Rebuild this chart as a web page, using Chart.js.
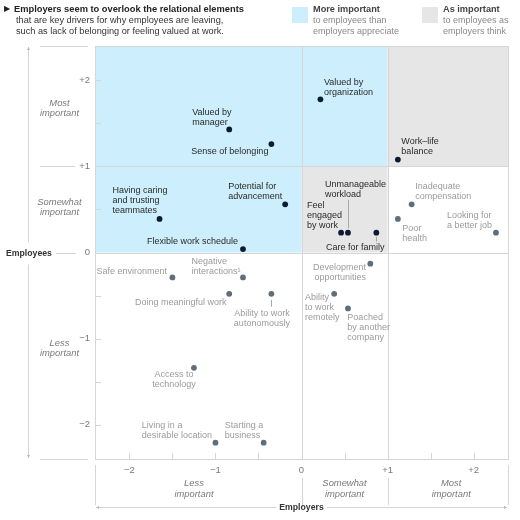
<!DOCTYPE html>
<html>
<head>
<meta charset="utf-8">
<script src="https://cdn.jsdelivr.net/npm/chart.js@4.4.1/dist/chart.umd.min.js"></script>
<style>
  html, body { margin: 0; padding: 0; background: #fff; }
  #wrap { position: relative; width: 520px; height: 520px; }
</style>
</head>
<body>
<div id="wrap"><canvas id="myChart" width="520" height="520"></canvas></div>
<script>
// drivers for leaving: how important to employers (x) vs employees (y)
const drivers = [
  "Valued by\nmanager",
  "Sense of belonging",
  "Potential for\nadvancement",
  "Having caring\nand trusting\nteammates",
  "Flexible work schedule",
  "Valued by\norganization",
  "Work\u2013life\nbalance",
  "Unmanageable\nworkload",
  "Feel\nengaged\nby work",
  "Care for family",
  "Inadequate\ncompensation",
  "Poor\nhealth",
  "Looking for\na better job",
  "Safe environment",
  "Negative\ninteractions\u00b9",
  "Doing meaningful work",
  "Ability to work\nautonomously",
  "Access to\ntechnology",
  "Living in a\ndesirable location",
  "Starting a\nbusiness",
  "Development\nopportunities",
  "Ability\nto work\nremotely",
  "Poached\nby another\ncompany"
];
const employerScore = [-0.84, -0.35, -0.19, -1.65, -0.68, 0.22, 1.12, 0.54, 0.46, 0.87, 1.28, 1.12, 2.26,
  -1.50, -0.68, -0.84, -0.35, -1.25, -1.00, -0.44, 0.80, 0.38, 0.54];
const employeeScore = [1.43, 1.26, 0.56, 0.39, 0.04, 1.78, 1.08, 0.23, 0.23, 0.23, 0.56, 0.39, 0.23,
  -0.29, -0.29, -0.48, -0.48, -1.34, -2.21, -2.21, -0.13, -0.48, -0.65];
// 1 = sits in a shaded zone (dark dot)
const keyDriver = [1, 1, 1, 1, 1, 1, 1, 1, 1, 1, 0, 0, 0, 0, 0, 0, 0, 0, 0, 0, 0, 0, 0];

const tickValues = [-2, -1, 0, 1, 2];
const tickLabels = ["\u22122", "\u22121", "0", "+1", "+2"];
const minorTicks = [-2, -1.5, -1, -0.5, 0.5, 1.5, 2];
const bandNames = ["Less\nimportant", "Somewhat\nimportant", "Most\nimportant"];
const bandEdges = [-2.4, 0, 1, 2.4];
const bandCenterY = [-1.11, 0.53, 1.68];
const bandCenterX = [-1.25, 0.5, 1.74];

// shaded zones, in data units
const zones = [
  { x0: -2.4, x1: 1, y0: 1, y1: 2.4, color: "#cdeefc" },
  { x0: -2.4, x1: 0, y0: 0, y1: 1, color: "#cdeefc" },
  { x0: 0, x1: 1, y0: 0, y1: 1, color: "#e6e6e6" },
  { x0: 1, x1: 2.4, y0: 1, y1: 2.4, color: "#e6e6e6" }
];

// where each label sits from its dot (px): align, dx, dy of first line, optional leader
const labelLayout = [
  ["left", -37, -17], ["right", -3, 7.5], ["left", -57, -17.5], ["left", -47, -28.5],
  ["right", -5, -7.5], ["left", 3.5, -17.3], ["left", 3.5, -18], ["left", -23, -48.5, [-33, -4.5]],
  ["left", -34, -27], ["center", -21, 14.5, [4, 9]], ["left", 3.5, -17.7], ["left", 4.5, 9.4],
  ["left", -49, -16.7], ["right", -5.4, -6], ["left", -51.4, -15.7], ["right", -2.7, 9],
  ["center", -9.5, 19.4, [6, 13]], ["center", -20, 6.7], ["left", -73.6, -17], ["left", -39, -17],
  ["right", -4.4, 4], ["left", -29.3, 4], ["left", -0.6, 9.4]
];

const FONT = '"Liberation Sans", Arial, sans-serif';
const DARK = "#0b1b33", GREY = "#5f6e7c";
const LINE = "#d6d6d6";

const points = employerScore.map((x, i) => ({ x: x, y: employeeScore[i] }));

const zonePlugin = {
  id: "zones",
  beforeDatasetsDraw(chart) {
    const { ctx, chartArea: a, scales: { x, y } } = chart;
    ctx.save();
    zones.forEach((z) => {
      ctx.fillStyle = z.color;
      const px0 = x.getPixelForValue(z.x0), px1 = x.getPixelForValue(z.x1);
      const py0 = y.getPixelForValue(z.y1), py1 = y.getPixelForValue(z.y0);
      ctx.fillRect(px0, py0, px1 - px0, py1 - py0);
    });
    ctx.strokeStyle = LINE;
    ctx.lineWidth = 1;
    // quadrant lines
    [0, 1].forEach((v) => {
      const px = Math.round(x.getPixelForValue(v)) + 0.5;
      const py = Math.round(y.getPixelForValue(v)) + 0.5;
      ctx.beginPath();
      ctx.moveTo(px, a.top); ctx.lineTo(px, a.bottom);
      ctx.moveTo(a.left, py); ctx.lineTo(a.right, py);
      ctx.stroke();
    });
    ctx.strokeRect(Math.round(a.left) + 0.5, Math.round(a.top) + 0.5, a.right - a.left, a.bottom - a.top);
    // small inner ticks
    ctx.beginPath();
    minorTicks.forEach((v) => {
      const px = Math.round(x.getPixelForValue(v)) + 0.5;
      ctx.moveTo(px, a.bottom); ctx.lineTo(px, a.bottom - 6);
      const py = Math.round(y.getPixelForValue(v)) + 0.5;
      ctx.moveTo(a.left, py); ctx.lineTo(a.left + 6, py);
    });
    ctx.stroke();
    ctx.restore();
  }
};

function multiline(ctx, text, x, y, lh) {
  text.split("\n").forEach((t, k) => ctx.fillText(t, x, y + k * lh));
}

const decorPlugin = {
  id: "decor",
  afterDatasetsDraw(chart) {
    const { ctx, chartArea: a, scales: { x, y } } = chart;
    ctx.save();
    // point labels
    ctx.font = "9px " + FONT;
    ctx.textBaseline = "middle";
    points.forEach((p, i) => {
      const lay = labelLayout[i];
      const px = x.getPixelForValue(p.x), py = y.getPixelForValue(p.y);
      ctx.fillStyle = keyDriver[i] ? "#2a2a2a" : "#9b9b9b";
      ctx.textAlign = lay[0];
      multiline(ctx, drivers[i], px + lay[1], py + lay[2], 10);
      if (lay[3]) {
        ctx.strokeStyle = "#a8a8a8";
        ctx.lineWidth = 1;
        ctx.beginPath();
        ctx.moveTo(Math.round(px) + 0.5, py + lay[3][0]);
        ctx.lineTo(Math.round(px) + 0.5, py + lay[3][1]);
        ctx.stroke();
      }
    });

    // y ticks
    ctx.fillStyle = "#7a7a7a";
    ctx.font = "9.5px " + FONT;
    ctx.textAlign = "right";
    tickValues.forEach((v, i) => ctx.fillText(tickLabels[i], a.left - 5, y.getPixelForValue(v)));
    // x ticks
    ctx.textAlign = "center";
    tickValues.forEach((v, i) => ctx.fillText(tickLabels[i], x.getPixelForValue(v), a.bottom + 11));

    // band labels
    ctx.font = "italic 9.4px " + FONT;
    ctx.fillStyle = "#7a7a7a";
    bandNames.forEach((n, i) => {
      multiline(ctx, n, 59.5, y.getPixelForValue(bandCenterY[i]) - 5, 10);
      multiline(ctx, n, x.getPixelForValue(bandCenterX[i]), a.bottom + 24, 11);
    });

    ctx.strokeStyle = LINE;
    ctx.lineWidth = 1;
    ctx.beginPath();
    // left band separators
    const yTop = Math.round(a.top) + 0.5, yBot = Math.round(a.bottom) + 0.5;
    const y1 = Math.round(y.getPixelForValue(1)) + 0.5, y0 = Math.round(y.getPixelForValue(0)) + 0.5;
    ctx.moveTo(40, yTop); ctx.lineTo(88, yTop);
    ctx.moveTo(40, yBot); ctx.lineTo(88, yBot);
    ctx.moveTo(40, y1); ctx.lineTo(75, y1);
    ctx.moveTo(56, y0); ctx.lineTo(76, y0);
    // bottom band separators
    bandEdges.forEach((v, i) => {
      const px = Math.round(x.getPixelForValue(v)) + 0.5;
      const edge = i === 0 || i === bandEdges.length - 1;
      ctx.moveTo(px, a.bottom + (edge ? 6 : 19)); ctx.lineTo(px, a.bottom + 46);
    });
    // axis arrows
    ctx.moveTo(28.5, a.top + 1); ctx.lineTo(28.5, y0 - 11);
    ctx.moveTo(28.5, y0 + 11); ctx.lineTo(28.5, a.bottom - 1);
    const ya = a.bottom + 48.5, xm = x.getPixelForValue(0);
    ctx.moveTo(a.left + 1, ya); ctx.lineTo(xm - 25, ya);
    ctx.moveTo(xm + 25, ya); ctx.lineTo(a.right - 1, ya);
    ctx.stroke();
    ctx.fillStyle = "#b8b8b8";
    [[28.5, a.top + 1, 0, 1], [28.5, a.bottom - 1, 0, -1], [a.left + 1, ya, 1, 0], [a.right - 1, ya, -1, 0]]
      .forEach(([ax, ay, dx, dy]) => {
        ctx.beginPath();
        ctx.moveTo(ax, ay);
        ctx.lineTo(ax + dx * 3 - dy * 1.5, ay + dy * 3 + dx * 1.5);
        ctx.lineTo(ax + dx * 3 + dy * 1.5, ay + dy * 3 - dx * 1.5);
        ctx.fill();
      });

    // axis titles
    ctx.fillStyle = "#333";
    ctx.font = "bold 8.7px " + FONT;
    ctx.textAlign = "left";
    ctx.fillText("Employees", 6, y0);
    ctx.textAlign = "center";
    ctx.fillText("Employers", xm, ya);

    // heading
    ctx.textAlign = "left";
    ctx.fillStyle = "#222";
    ctx.font = "8px " + FONT;
    ctx.fillText("\u25B6", 4, 9);
    ctx.font = "bold 9.3px " + FONT;
    ctx.fillText("Employers seem to overlook the relational elements", 14, 9);
    ctx.font = "9.2px " + FONT;
    ctx.fillStyle = "#333";
    ctx.fillText("that are key drivers for why employees are leaving,", 16, 20.5);
    ctx.fillText("such as lack of belonging or feeling valued at work.", 16, 31.5);

    // legend
    [["#cdeefc", 292, "More important", "to employees than\nemployers appreciate"],
     ["#e6e6e6", 422, "As important", "to employees as\nemployers think"]]
      .forEach(([c, lx, t1, t2]) => {
        ctx.fillStyle = c;
        ctx.fillRect(lx, 7, 16, 16);
        ctx.fillStyle = "#444";
        ctx.font = "bold 9.2px " + FONT;
        ctx.fillText(t1, lx + 21, 9);
        ctx.fillStyle = "#8a8a8a";
        ctx.font = "9px " + FONT;
        multiline(ctx, t2, lx + 21, 20.5, 11);
      });
    ctx.restore();
  }
};

new Chart("myChart", {
  type: "scatter",
  data: {
    datasets: [{
      data: points,
      pointBackgroundColor: keyDriver.map((k) => (k ? DARK : GREY)),
      pointBorderWidth: 0,
      pointRadius: 2.9
    }]
  },
  options: {
    responsive: false,
    animation: false,
    layout: { padding: { left: 95, right: 12, top: 46, bottom: 61 } },
    plugins: { legend: { display: false }, tooltip: { enabled: false } },
    scales: {
      x: { type: "linear", min: -2.4, max: 2.4, display: false },
      y: { type: "linear", min: -2.4, max: 2.4, display: false }
    }
  },
  plugins: [zonePlugin, decorPlugin]
});
</script>
</body>
</html>
